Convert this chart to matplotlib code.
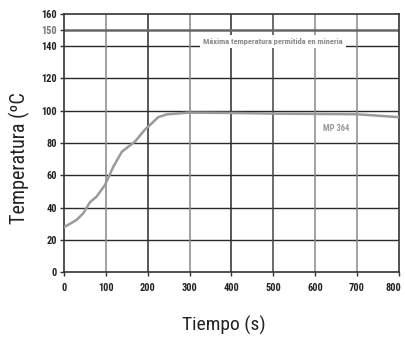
import matplotlib
matplotlib.use("Agg")
import matplotlib.pyplot as plt
from matplotlib import font_manager
from matplotlib.transforms import ScaledTranslation

# Temperature curve of the MP 364 sample
time_s = [0, 30, 46, 62, 78, 98, 118, 138, 170, 193, 209, 225, 245, 297, 400, 500, 600, 700, 800]
temp_c = [27.8, 32.3, 36.4, 43.3, 46.8, 54, 65.4, 74.5, 81, 88.2, 92, 96, 97.7, 98.8, 98.6, 98.2, 98, 97.8, 96]

x_ticks = [0, 100, 200, 300, 400, 500, 600, 700, 800]
y_ticks = [0, 20, 40, 60, 80, 100, 120, 140, 150, 160]
max_mining_temp = 150

series_label = "MP 364"
limit_label = "Máxima temperatura permitida en mineria"
x_label = "Tiempo (s)"
y_label = "Temperatura (ºC"

available = {f.name for f in font_manager.fontManager.ttflist}
preferred = ["Roboto Condensed", "Archivo Narrow", "Asap Condensed", "DejaVu Sans"]
family = [f for f in preferred if f in available] + ["DejaVu Sans"]
plt.rcParams["font.family"] = family

fig = plt.figure(figsize=(4.05, 3.38), dpi=100)
ax = fig.add_axes([0.158, 0.195, 0.827, 0.764])

ax.set_xlim(0, 800)
ax.set_ylim(0, 160)

# grid: horizontal lines dark, vertical lines alternating shade
for y in y_ticks[1:-1]:
    if y == max_mining_temp:
        continue
    ax.axhline(y, color="#2a2a2a", lw=1.0, zorder=1)
v_shades = ["#888888", "#2a2a2a", "#888888", "#2a2a2a", "#444444", "#888888", "#888888"]
for x, c in zip(x_ticks[1:-1], v_shades):
    ax.axvline(x, color=c, lw=1.1, zorder=1)

# mining limit line
ax.axhline(max_mining_temp, color="#666666", lw=1.8, zorder=2)

ax.plot(time_s, temp_c, color="#9a9a9a", lw=1.8, zorder=3)

ax.text(499, 143, limit_label, ha="center", va="center", fontsize=6.0,
        fontweight="bold", color="#8a8a8a", zorder=4,
        bbox=dict(boxstyle="square,pad=0.35", fc="white", ec="none"))
ax.text(649, 89, series_label, ha="center", va="center", fontsize=6.2,
        fontweight="bold", color="#9a9a9a", zorder=4)

for s in ax.spines.values():
    s.set_color("#333333")
    s.set_linewidth(1.2)

ax.set_xticks(x_ticks)
ax.set_yticks(y_ticks)
ax.tick_params(axis="both", length=3, width=1, color="#333333", labelsize=7.5,
               labelcolor="#222222", pad=2)
ax.tick_params(axis="x", pad=5)
for lbl in ax.get_xticklabels() + ax.get_yticklabels():
    lbl.set_fontweight("bold")
ax.get_yticklabels()[y_ticks.index(max_mining_temp)].set_color("#777777")

# nudge the last x label inward so it stays on the canvas
last = ax.get_xticklabels()[-1]
last.set_transform(last.get_transform() + ScaledTranslation(-4 / 72, 0, fig.dpi_scale_trans))

fig.text(0.553, 0.036, x_label, ha="center", va="center", fontsize=14, color="#222222")
fig.text(0.049, 0.533, y_label, ha="center", va="center", rotation=90,
         fontsize=14.5, color="#222222")

fig.savefig("out.png", dpi=100)
